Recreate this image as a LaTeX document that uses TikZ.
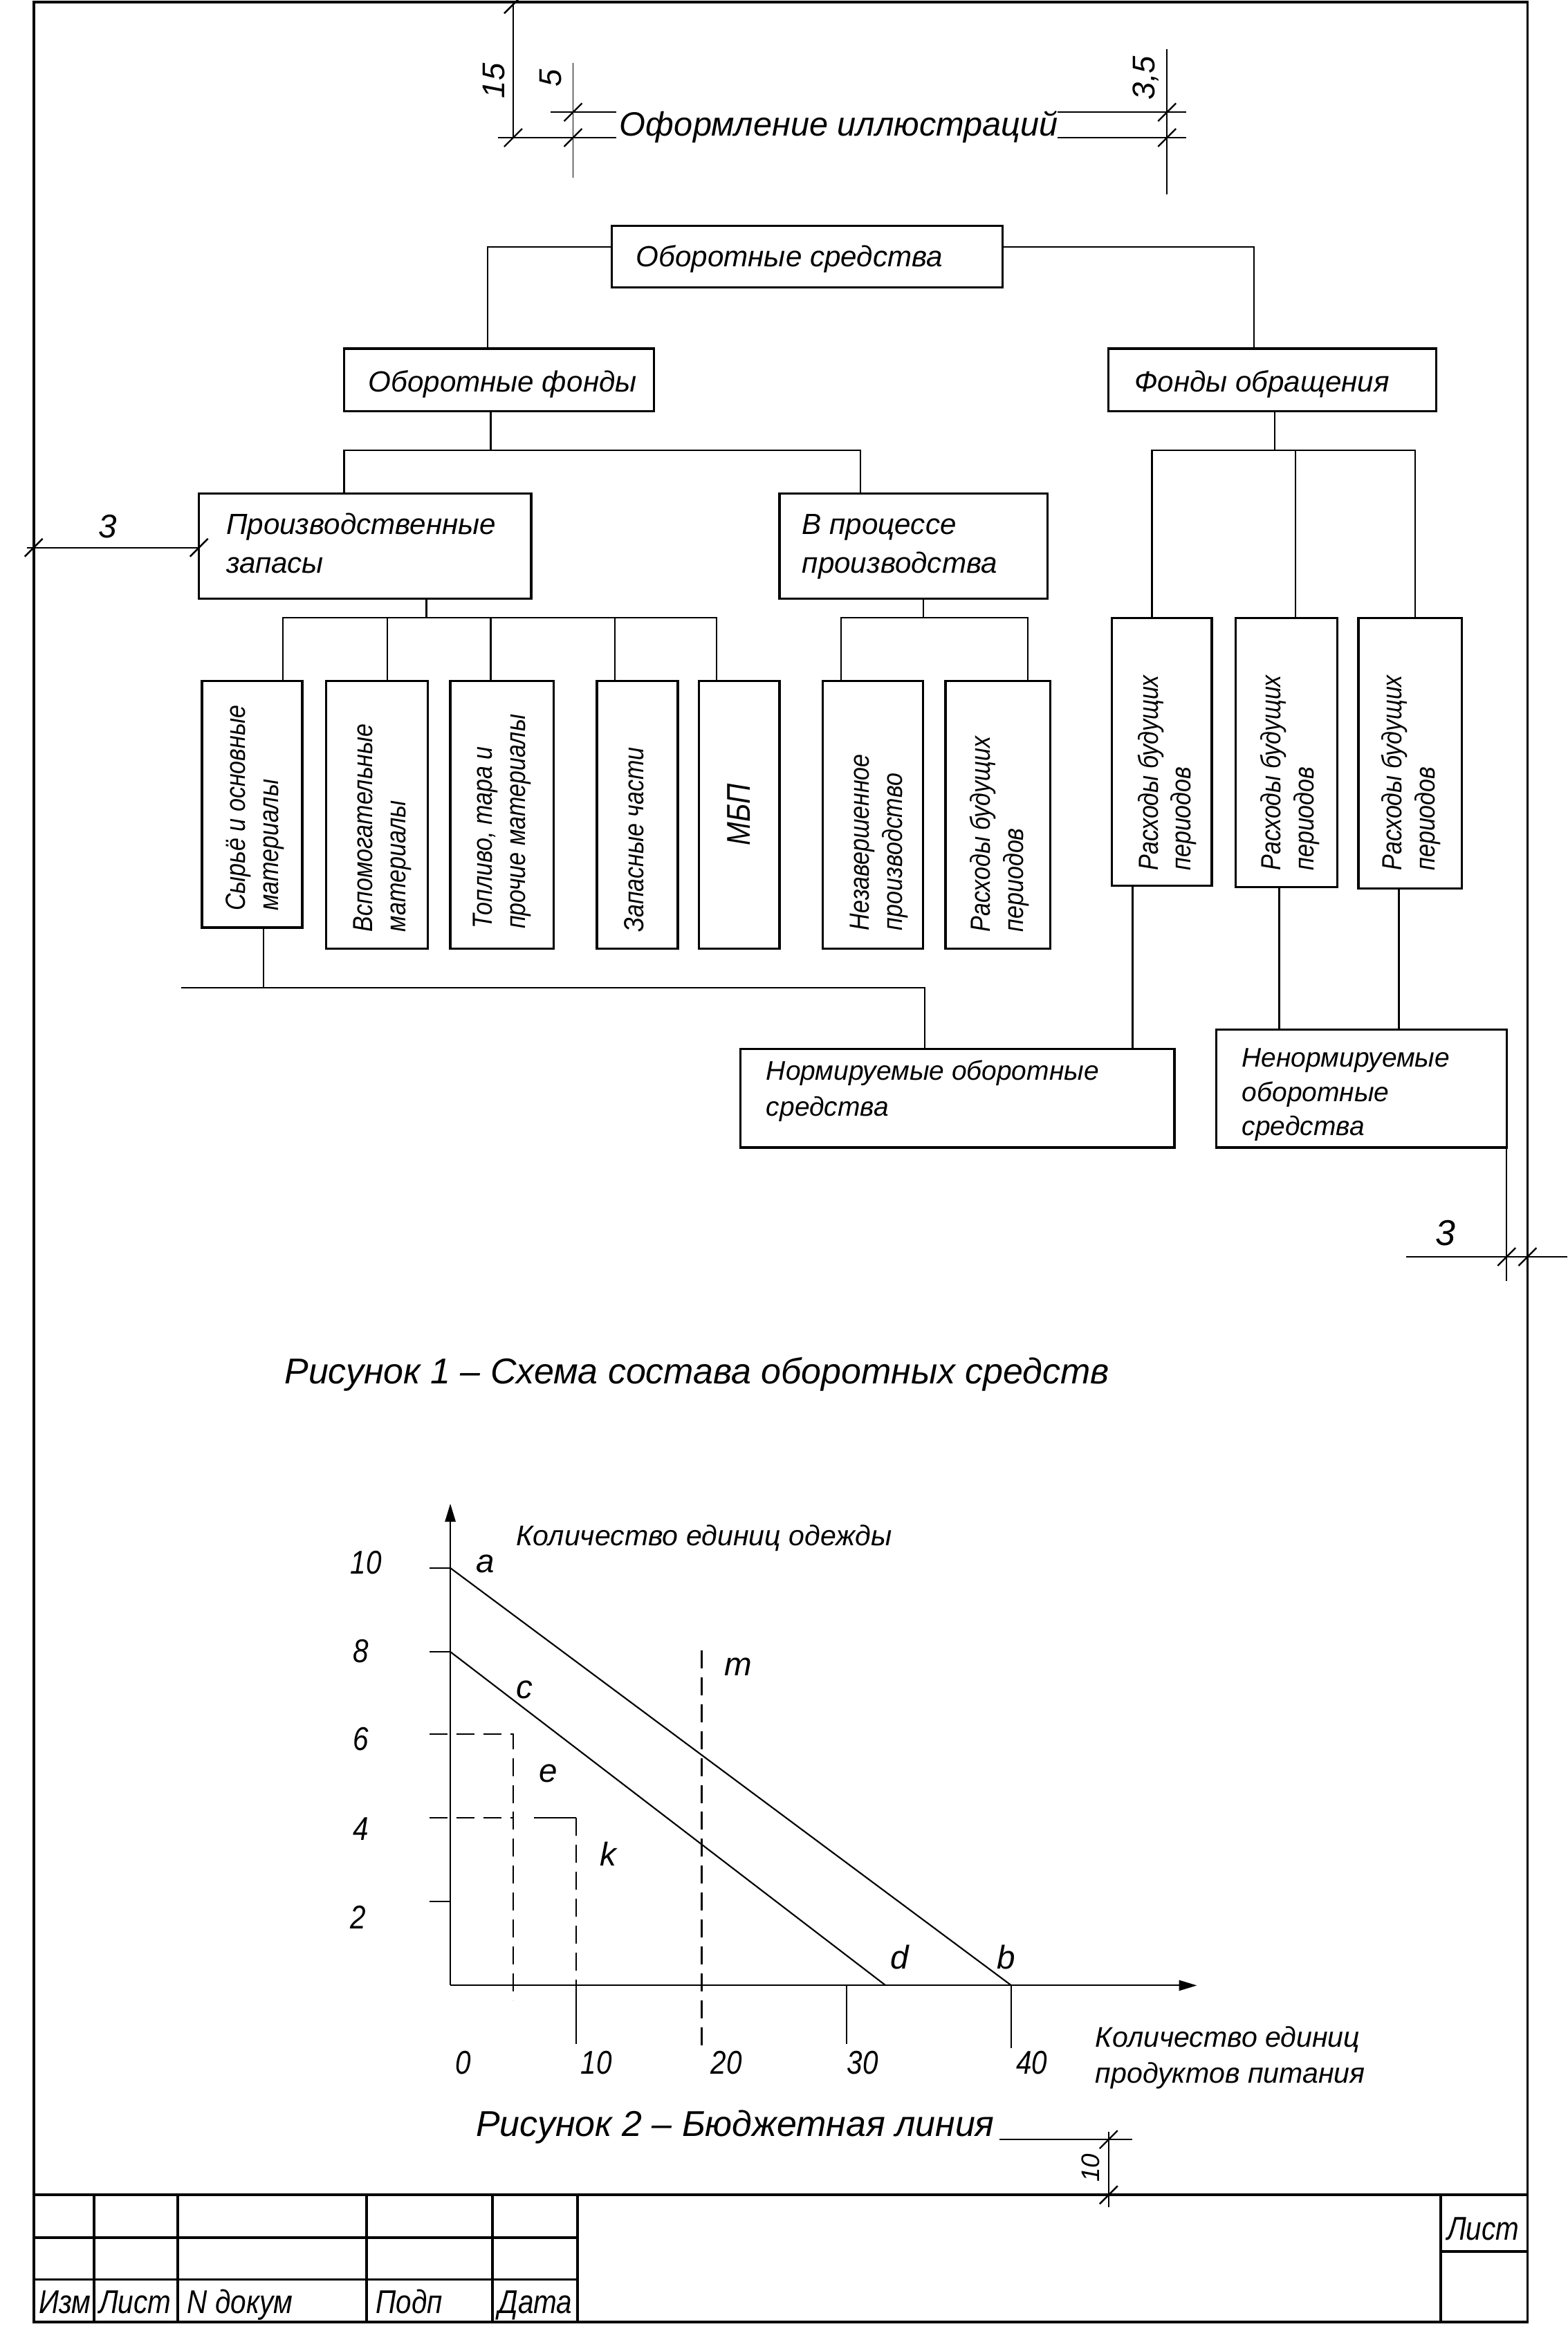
\documentclass[tikz,border=0pt]{standalone}
\usepackage{fontspec}
\setmainfont{Liberation Sans}
\newfontfamily\nfont{Liberation Sans}[FakeStretch=0.85]
\usetikzlibrary{arrows.meta,calc}
\newcommand\mkbox[5]{\node[box, minimum width={(#4-#2)*1pt}, minimum height={(#5-#3)*1pt}] (#1) at (#2,#3) {};}
\newcommand\dtk[2]{\draw[dtick] ({#1-6},{#2+6}) -- ({#1+6},{#2-6});}
\begin{document}
\begin{tikzpicture}[x=1pt,y=-1pt,
  box/.style={draw, line width=1.5pt, inner sep=0pt, outer sep=0pt, anchor=north west},
  con/.style={line width=1pt},
  frm/.style={line width=1.8pt},
  dim/.style={line width=0.8pt},
  dtick/.style={line width=1.1pt},
  dsh/.style={line width=1pt, dash pattern=on 12pt off 6pt},
  ht/.style={inner sep=0pt, anchor=base west, font=\fontsize{19.5}{24}\selectfont\itshape},
  vt/.style={inner sep=0pt, anchor=base west, rotate=90, font=\nfont\fontsize{18.5}{22}\selectfont\itshape},
  gt/.style={inner sep=0pt, anchor=base west, font=\fontsize{19}{24}\selectfont\itshape},
  num/.style={inner sep=0pt, anchor=base west, font=\nfont\fontsize{22}{24}\selectfont\itshape},
  lbl/.style={inner sep=0pt, anchor=base west, font=\fontsize{22}{24}\selectfont\itshape},
  tb/.style={inner sep=0pt, anchor=base west, font=\nfont\fontsize{22}{26}\selectfont\itshape},
  arr/.style={-{Triangle[length=12pt,width=7pt]}},
]
\useasboundingbox (0,0) rectangle (1047.6,1570);
\fill[white] (0,0) rectangle (1047.6,1570);

% frame
\draw[frm] (22.5,1.5) rectangle (1021,1552);

% ---------- heading dimensions ----------
\draw[dim] (343,1.5) -- (343,92);
\draw[dim] (333,92) -- (412,92);
\draw[dim] (368,75) -- (412,75);
\draw[dim] (383,42) -- (383,119);
\draw[dim] (707,75) -- (793,75);
\draw[dim] (707,92) -- (793,92);
\draw[dim] (780,33) -- (780,130);
\dtk{343}{3}\dtk{343}{92}\dtk{383}{75}\dtk{383}{92}\dtk{780}{75}\dtk{780}{92}
\node[rotate=90, inner sep=0pt, font=\fontsize{21}{24}\selectfont\itshape] (d15) at (330,54) {15};
\node[rotate=90, inner sep=0pt, font=\fontsize{21}{24}\selectfont\itshape] (d5) at (368,52) {5};
\node[rotate=90, inner sep=0pt, font=\fontsize{21}{24}\selectfont\itshape] (d35) at (766,52) {3,5};
\node[ht, font=\fontsize{22.5}{26}\selectfont\itshape] (title) at (414,91) {Оформление иллюстраций};

% ---------- boxes ----------
\mkbox{os}{409}{151}{670}{192}
\mkbox{of}{230}{233}{437}{275}
\mkbox{fo}{741}{233}{960}{275}
\mkbox{pz}{133}{330}{355}{400}
\mkbox{vp}{521}{330}{700}{400}
\mkbox{b1}{135}{455}{202}{620}
\mkbox{b2}{218}{455}{286}{634}
\mkbox{b3}{301}{455}{370}{634}
\mkbox{b4}{399}{455}{453}{634}
\mkbox{b5}{467}{455}{521}{634}
\mkbox{b6}{550}{455}{617}{634}
\mkbox{b7}{632}{455}{702}{634}
\mkbox{r1}{743}{413}{810}{592}
\mkbox{r2}{826}{413}{894}{593}
\mkbox{r3}{908}{413}{977}{594}
\mkbox{no}{495}{701}{785}{767}
\mkbox{nn}{813}{688}{1007}{767}

% ---------- connectors ----------
\draw[con] (os.west |- 0,165) -| (of.north -| 326,0);
\draw[con] (os.east |- 0,165) -| (fo.north -| 838,0);
\draw[con] (of.south -| 328,0) -- (328,301);
\draw[con] (pz.north -| 230,0) -- (230,301) -- (575,301) -- (vp.north -| 575,0);
\draw[con] (fo.south -| 852,0) -- (852,301);
\draw[con] (r1.north -| 770,0) -- (770,301) -- (946,301) -- (r3.north -| 946,0);
\draw[con] (r2.north -| 866,0) -- (866,301);
\draw[con] (pz.south -| 285,0) -- (285,413);
\draw[con] (b1.north -| 189,0) -- (189,413) -- (479,413) -- (b5.north -| 479,0);
\draw[con] (b2.north -| 259,0) -- (259,413);
\draw[con] (b3.north -| 328,0) -- (328,413);
\draw[con] (b4.north -| 411,0) -- (411,413);
\draw[con] (vp.south -| 617,0) -- (617,413);
\draw[con] (b6.north -| 562,0) -- (562,413) -- (687,413) -- (b7.north -| 687,0);
\coordinate (lend) at (121,660);
\draw[con] (b1.south -| 176,0) -- (176,660);
\draw[con] (lend) -- (618,660) -- (no.north -| 618,0);
\draw[con] (r1.south -| 757,0) -- (no.north -| 757,0);
\draw[con] (r2.south -| 855,0) -- (nn.north -| 855,0);
\draw[con] (r3.south -| 935,0) -- (nn.north -| 935,0);

% ---------- box texts ----------
\node[ht] at (425,178) {Оборотные средства};
\node[ht] at (246,262) {Оборотные фонды};
\node[ht] at (758,262) {Фонды обращения};
\node[ht] at (151,357) {Производственные};
\node[ht] at (151,383) {запасы};
\node[ht] at (536,357) {В процессе};
\node[ht] at (536,383) {производства};

\node[vt] at (164,609) {Сырьё и основные};
\node[vt] at (186,609) {материалы};
\node[vt] at (249,623) {Вспомогательные};
\node[vt] at (271,623) {материалы};
\node[vt] at (329,621) {Топливо, тара и};
\node[vt] at (351,621) {прочие материалы};
\node[vt] at (430,623) {Запасные части};
\node[rotate=90, inner sep=0pt, font=\nfont\fontsize{22}{24}\selectfont\itshape] at (b5.center) {МБП};
\node[vt] at (581,622) {Незавершенное};
\node[vt] at (603,622) {производство};
\node[vt] at (662,623) {Расходы будущих};
\node[vt] at (684,623) {периодов};
\node[vt] at (774,582) {Расходы будущих};
\node[vt] at (796,582) {периодов};
\node[vt] at (856,582) {Расходы будущих};
\node[vt] at (878,582) {периодов};
\node[vt] at (937,582) {Расходы будущих};
\node[vt] at (959,582) {периодов};

\node[ht, font=\fontsize{18}{22}\selectfont\itshape] at (512,722) {Нормируемые оборотные};
\node[ht, font=\fontsize{18}{22}\selectfont\itshape] at (512,746) {средства};
\node[ht, font=\fontsize{18}{22}\selectfont\itshape] at (830,713) {Ненормируемые};
\node[ht, font=\fontsize{18}{22}\selectfont\itshape] at (830,736) {оборотные};
\node[ht, font=\fontsize{18}{22}\selectfont\itshape] at (830,759) {средства};

% ---------- side dimensions ----------
\draw[dim] (18,366) -- (pz.west |- 0,366);
\dtk{22.5}{366}\dtk{133}{366}
\node[inner sep=0pt, font=\fontsize{22}{24}\selectfont\itshape] at (72,352) {3};
\coordinate (ext) at (1007,856);
\draw[dim] (nn.south east) -- (ext);
\draw[dim] (940,840) -- (1047.6,840);
\dtk{1007}{840}\dtk{1021}{840}
\node[inner sep=0pt, font=\fontsize{24}{26}\selectfont\itshape] at (966,824) {3};

% caption 1
\node[ht, font=\fontsize{24}{28}\selectfont\itshape] at (190,925) {Рисунок 1 – Схема состава оборотных средств};

% ---------- graph ----------
\coordinate (O) at (301,1327);
\coordinate (ytip) at (301,1005);
\coordinate (xtip) at (800,1327);
\coordinate (a) at (301,1048);
\coordinate (b) at (676,1327);
\coordinate (c) at (301,1104);
\coordinate (d) at (592,1327);
\draw[con, arr] (O) -- (ytip);
\draw[con, arr] (O) -- (xtip);
\draw[con] (287,1048) -- (a);
\draw[con] (287,1104) -- (c);
\draw[con] (287,1271) -- (301,1271);
\draw[dsh] (287,1159) -- (343,1159) -- (343,1337);
\draw[dsh] (287,1215) -- (343,1215);
\draw[con] (357,1215) -- (385,1215);
\draw[dsh] (385,1215) -- (385,1327);
\draw[con] (385,1327) -- (385,1366);
\draw[dsh] (469,1103) -- (469,1369);
\draw[con] (566,1327) -- (566,1366);
\draw[con] (b) -- (676,1369);
\draw[con] (a) -- (b);
\draw[con] (c) -- (d);

\node[gt] at (345,1033) {Количество единиц одежды};
\node[gt] at (732,1368) {Количество единиц};
\node[gt] at (732,1392) {продуктов питания};
\node[num] at (234,1052) {10};
\node[num] at (236,1111) {8};
\node[num] at (236,1170) {6};
\node[num] at (236,1230) {4};
\node[num] at (234,1289) {2};
\node[num] at (304,1386) {0};
\node[num] at (388,1386) {10};
\node[num] at (475,1386) {20};
\node[num] at (566,1386) {30};
\node[num] at (679,1386) {40};
\node[lbl] at (318,1051) {a};
\node[lbl] at (345,1135) {c};
\node[lbl] at (360,1191) {e};
\node[lbl] at (401,1247) {k};
\node[lbl] at (484,1120) {m};
\node[lbl] at (595,1316) {d};
\node[lbl] at (666,1316) {b};

\node[ht, font=\fontsize{24}{28}\selectfont\itshape] at (318,1428) {Рисунок 2 – Бюджетная линия};

% bottom dimension 10
\draw[dim] (668,1430) -- (757,1430);
\draw[dim] (741,1425) -- (741,1475);
\dtk{741}{1430}\dtk{741}{1467}
\node[rotate=90, inner sep=0pt, font=\fontsize{17}{20}\selectfont\itshape] at (729,1449) {10};

% ---------- title block ----------
\draw[frm] (22.5,1467) -- (1021,1467);
\draw[frm] (22.5,1495.5) -- (386,1495.5);
\draw[frm] (22.5,1523.5) -- (386,1523.5);
\foreach \xx in {63,119,245,329,386,963} {\draw[frm] (\xx,1467) -- (\xx,1552);}
\draw[frm] (963,1505) -- (1021,1505);
\node[tb] at (26,1546) {Изм};
\node[tb] at (66,1546) {Лист};
\node[tb] at (125,1546) {N докум};
\node[tb] at (251,1546) {Подп};
\node[tb] at (333,1546) {Дата};
\node[tb] at (967,1497) {Лист};
\end{tikzpicture}
\end{document}
